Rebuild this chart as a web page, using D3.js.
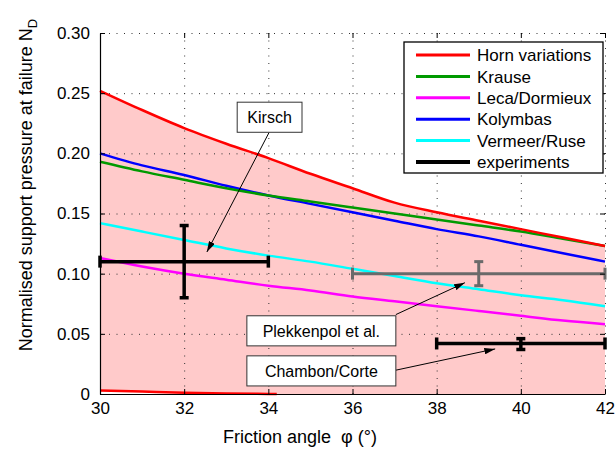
<!DOCTYPE html>
<html>
<head>
<meta charset="utf-8">
<script src="https://cdn.jsdelivr.net/npm/d3@7"></script>
<style>
body{margin:0;background:#fff;}
text{font-family:"Liberation Sans",Arial,sans-serif;}
</style>
</head>
<body>
<svg width="616" height="452"></svg>
<script>
// friction angles (deg) where curves were read
var phi=[30,31,32,33,34,35,36,37,38,39,40,41,42];
var hornUpper=[0.252,0.236,0.221,0.208,0.196,0.183,0.171,0.159,0.151,0.144,0.137,0.130,0.123];
var hornLowPhi=[30,31,32,33,34,34.2];
var hornLower=[0.003,0.002,0.001,0.0004,0.0001,0];
var krause=[0.193,0.185,0.178,0.171,0.165,0.160,0.155,0.150,0.145,0.140,0.135,0.129,0.123];
var leca=[0.113,0.106,0.100,0.095,0.090,0.086,0.081,0.077,0.073,0.069,0.065,0.061,0.058];
var kolymbas=[0.200,0.190,0.182,0.173,0.165,0.158,0.151,0.144,0.137,0.131,0.124,0.117,0.110];
var vermeer=[0.142,0.135,0.128,0.121,0.115,0.110,0.104,0.098,0.092,0.087,0.082,0.078,0.073];

// experiments: centre, x range, y range
var expNames=["Kirsch","Plekkenpol et al.","Chambon/Corte"];
var expPhi=[32,39,40];
var expN=[0.11,0.10,0.042];
var expPhiLo=[30,36,38];
var expPhiHi=[34,42,42];
var expNLo=[0.08,0.09,0.037];
var expNHi=[0.14,0.11,0.046];

var xTicks=[30,32,34,36,38,40,42];
var yTicks=[0,0.05,0.10,0.15,0.20,0.25,0.30];
var legendNames=["Horn variations","Krause","Leca/Dormieux","Kolymbas","Vermeer/Ruse","experiments"];

var svg=d3.select('svg');
var pLeft=100,pRight=605,pTop=33,pBottom=394;

var x=d3.scaleLinear().domain([30,42]).range([pLeft,pRight]);
var y=d3.scaleLinear().domain([0,0.30]).range([pBottom,pTop]);

// pink band between horn variations
var band=[];
for(i=0;i<phi.length;i++){ band.push([phi[i],hornUpper[i]]); }
band.push([42,0]);
for(i=hornLowPhi.length-1;i>=0;i--){ band.push([hornLowPhi[i],hornLower[i]]); }
svg.append('path')
    .attr('d',d3.line().curve(d3.curveMonotoneX).x(function(d){return x(d[0]);}).y(function(d){return y(d[1]);})(band.slice(0,phi.length))
        +d3.line().x(function(d){return x(d[0]);}).y(function(d){return y(d[1]);})(band.slice(phi.length-1)).replace('M','L')+'Z')
    .style('fill','#ffcaca')
    .style('stroke','none');

// dotted grid
var gx=svg.append('g').attr('transform','translate(0,'+pTop+')')
    .call(d3.axisBottom(x).tickValues(xTicks).tickSize(pBottom-pTop).tickFormat(''));
var gy=svg.append('g').attr('transform','translate('+pRight+',0)')
    .call(d3.axisLeft(y).tickValues(yTicks).tickSize(pRight-pLeft).tickFormat(''));
[gx,gy].forEach(function(g){
    g.select('.domain').remove();
    g.selectAll('line').style('stroke','#333').style('stroke-dasharray','1,6.5').style('stroke-width',1);
});

// curves
function drawCurve(xs,vals,color){
    var pts=xs.map(function(p,k){return [p,vals[k]];});
    svg.append('path')
        .attr('d',d3.line().curve(d3.curveMonotoneX).x(function(d){return x(d[0]);}).y(function(d){return y(d[1]);})(pts))
        .style('fill','none')
        .style('stroke',color)
        .style('stroke-width',2.5);
}
drawCurve(phi,vermeer,'#00ffff');
drawCurve(phi,leca,'#ff00ff');
drawCurve(phi,kolymbas,'#0000ff');
drawCurve(phi,krause,'#009a00');
drawCurve(phi,hornUpper,'#ff0000');
drawCurve(hornLowPhi,hornLower,'#ff0000');

// error bars
var expColors=['#000','#6a6a6a','#000'];
var expWidths=[3.5,3,3.5];
for(i=0;i<expPhi.length;i++){
    var g=svg.append('g').style('stroke',expColors[i]).style('stroke-width',expWidths[i]).style('fill','none');
    var cx=x(expPhi[i]),cy=y(expN[i]);
    g.append('line').attr('x1',x(expPhiLo[i])).attr('x2',x(expPhiHi[i])).attr('y1',cy).attr('y2',cy);
    g.append('line').attr('x1',cx).attr('x2',cx).attr('y1',y(expNLo[i])).attr('y2',y(expNHi[i]));
    [expPhiLo[i],expPhiHi[i]].forEach(function(p){
        g.append('line').attr('x1',x(p)).attr('x2',x(p)).attr('y1',cy-6).attr('y2',cy+6);
    });
    [expNLo[i],expNHi[i]].forEach(function(v){
        g.append('line').attr('x1',cx-4.5).attr('x2',cx+4.5).attr('y1',y(v)).attr('y2',y(v));
    });
}

// axes
var ax=svg.append('g').attr('transform','translate(0,'+pBottom+')')
    .call(d3.axisBottom(x).tickValues(xTicks).tickSizeInner(-5).tickSizeOuter(0).tickPadding(8));
var ay=svg.append('g').attr('transform','translate('+pLeft+',0)')
    .call(d3.axisLeft(y).tickValues(yTicks).tickSizeInner(-5).tickSizeOuter(0).tickPadding(10)
        .tickFormat(function(d){return d===0?'0':d.toFixed(2);}));
var at=svg.append('g').attr('transform','translate(0,'+pTop+')')
    .call(d3.axisTop(x).tickValues(xTicks).tickSizeInner(-5).tickSizeOuter(0).tickFormat(''));
at.select('.domain').remove();
var ar=svg.append('g').attr('transform','translate('+pRight+',0)')
    .call(d3.axisRight(y).tickValues(yTicks).tickSizeInner(-5).tickSizeOuter(0).tickFormat(''));
ar.select('.domain').remove();
[ax,ay].forEach(function(g){
    g.selectAll('text').style('font-size','17px').style('font-family','"Liberation Sans",Arial,sans-serif').attr('fill','#000');
    g.select('.domain').style('stroke','#000').style('stroke-width',1.2);
});
[ax,ay,at,ar].forEach(function(g){ g.selectAll('.tick line').style('stroke','#000'); });

// axis titles
svg.append('text').attr('x',223).attr('y',443).style('font-size','18px').style('white-space','pre')
    .text('Friction angle  \u03c6 (\u00b0)');
var yl=svg.append('text').attr('transform','translate(32,185) rotate(-90)')
    .attr('text-anchor','middle').style('font-size','18px');
yl.append('tspan').text('Normalised support pressure at failure N');
yl.append('tspan').attr('dy',5).style('font-size','13px').text('D');

// annotations
var defs=svg.append('defs');
defs.append('marker').attr('id','arr').attr('viewBox','0 0 10 6').attr('refX',10).attr('refY',3)
    .attr('markerWidth',11).attr('markerHeight',6.5).attr('markerUnits','userSpaceOnUse').attr('orient','auto')
    .append('path').attr('d','M0,0L10,3L0,6Z').style('fill','#000');

var annBox=[[33.26,34.80,0.2425,0.2175],[33.49,37.03,0.065,0.040],[33.49,37.03,0.0317,0.0067]];
var annFrom=[[34.02,0.2175],[37.03,0.066],[37.03,0.0198]];
var annTo=[[32.54,0.118],[38.67,0.0925],[39.39,0.0375]];
for(i=0;i<expNames.length;i++){
    svg.append('line')
        .attr('x1',x(annFrom[i][0])).attr('y1',y(annFrom[i][1]))
        .attr('x2',x(annTo[i][0])).attr('y2',y(annTo[i][1]))
        .style('stroke','#000').style('stroke-width',1)
        .attr('marker-end','url(#arr)');
    var b=annBox[i];
    svg.append('rect').attr('x',x(b[0])).attr('y',y(b[2]))
        .attr('width',x(b[1])-x(b[0])).attr('height',y(b[3])-y(b[2]))
        .style('fill','#fff').style('stroke','#333').style('stroke-width',1);
    svg.append('text').attr('x',(x(b[0])+x(b[1]))/2).attr('y',(y(b[2])+y(b[3]))/2)
        .attr('dy','0.36em').attr('text-anchor','middle').style('font-size','16px')
        .text(expNames[i]);
}

// legend
var legColors=['#ff0000','#009a00','#ff00ff','#0000ff','#00ffff','#000'];
var lg=svg.append('g').attr('transform','translate(404,42)');
lg.append('rect').attr('width',199).attr('height',131).style('fill','#fff').style('stroke','#000').style('stroke-width',1.3);
legendNames.forEach(function(name,k){
    var ly=13+k*21.4;
    lg.append('line').attr('x1',12).attr('x2',66).attr('y1',ly).attr('y2',ly)
        .style('stroke',legColors[k]).style('stroke-width',k==5?4:3);
    lg.append('text').attr('x',73).attr('y',ly).attr('dy','0.36em').style('font-size','17px').text(name);
});
</script>
</body>
</html>
